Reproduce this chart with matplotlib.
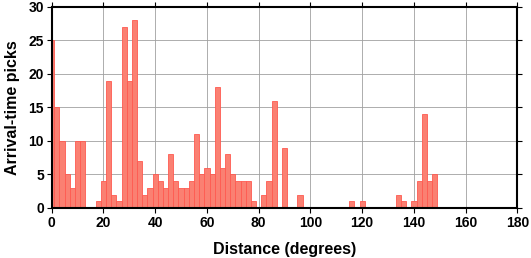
import numpy as np
import matplotlib.pyplot as plt

# histogram bins: 2-degree wide, centred on even distances
bin_centers = [0, 2, 4, 6, 8, 10, 12, 18, 20, 22, 24, 26, 28, 30, 32, 34, 36, 38,
               40, 42, 44, 46, 48, 50, 52, 54, 56, 58, 60, 62, 64, 66, 68, 70, 72,
               74, 76, 78, 82, 84, 86, 90, 96, 116, 120, 134, 136, 140, 142, 144,
               146, 148]
pick_counts = [25, 15, 10, 5, 3, 10, 10, 1, 4, 19, 2, 1, 27, 19, 28, 7, 2, 3,
               5, 4, 3, 8, 4, 3, 3, 4, 11, 5, 6, 5, 18, 6, 8, 5, 4,
               4, 4, 1, 2, 4, 16, 9, 2, 1, 1, 2, 1, 1, 4, 14,
               4, 5]
bin_width = 2

plt.rcParams['font.family'] = ['Liberation Sans', 'DejaVu Sans']
plt.rcParams['font.weight'] = 'bold'

fig = plt.figure(figsize=(5.31, 2.58), dpi=100)
ax = fig.add_axes([0.0974, 0.194, 0.877, 0.779])

ax.bar(bin_centers, pick_counts, width=bin_width, color='#fa8072',
       edgecolor='#ff5a50', linewidth=0.6, zorder=2)

ax.set_xlim(0, 180)
ax.set_ylim(0, 30)
ax.set_xticks(np.arange(0, 181, 20))
ax.set_yticks(np.arange(0, 31, 5))
ax.grid(True, color='#a0a0a0', linewidth=0.6, zorder=0)
ax.set_axisbelow(True)

for s in ax.spines.values():
    s.set_linewidth(1.5)
    s.set_zorder(3)
ax.tick_params(direction='out', length=3.5, width=0.8, top=True, right=True,
               labelsize=10, pad=2)
for lab in ax.get_xticklabels() + ax.get_yticklabels():
    lab.set_fontweight('bold')

ax.set_xlabel('Distance (degrees)', fontsize=11.5, fontweight='bold', labelpad=9)
ax.set_ylabel('Arrival-time picks', fontsize=11.5, fontweight='bold', labelpad=6)

fig.savefig('out.png', dpi=100)
